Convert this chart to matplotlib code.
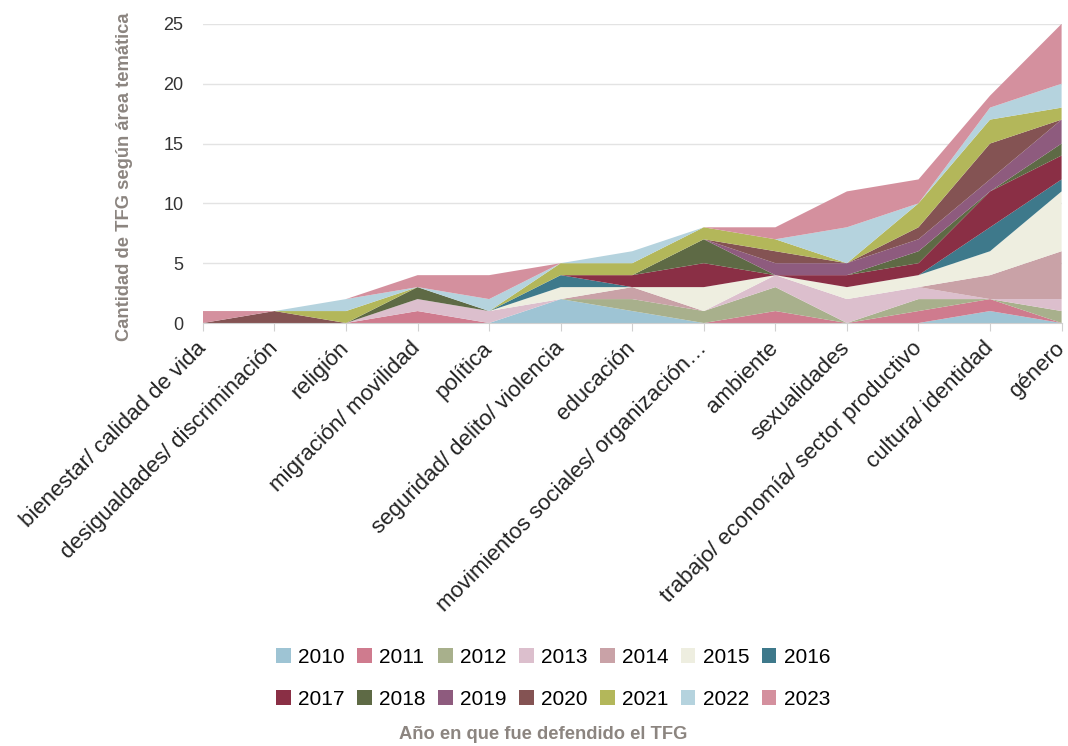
import numpy as np
import matplotlib
matplotlib.use("Agg")
import matplotlib.pyplot as plt
from matplotlib.patches import Patch

plt.rcParams['font.family'] = ['Liberation Sans', 'DejaVu Sans']

# ----------------------------
# Data
# ----------------------------
categories = [
    "bienestar/ calidad de vida",
    "desigualdades/ discriminación",
    "religión",
    "migración/ movilidad",
    "política",
    "seguridad/ delito/ violencia",
    "educación",
    "movimientos sociales/ organización…",
    "ambiente",
    "sexualidades",
    "trabajo/ economía/ sector productivo",
    "cultura/ identidad",
    "género",
]

years = ["2010", "2011", "2012", "2013", "2014", "2015", "2016",
         "2017", "2018", "2019", "2020", "2021", "2022", "2023"]

y2010 = [0, 0, 0, 0, 0, 2, 1, 0, 0, 0, 0, 1, 0]
y2011 = [0, 0, 0, 1, 0, 0, 0, 0, 1, 0, 1, 1, 0]
y2012 = [0, 0, 0, 0, 0, 0, 1, 1, 2, 0, 1, 0, 1]
y2013 = [0, 0, 0, 1, 1, 0, 0, 0, 1, 2, 1, 0, 1]
y2014 = [0, 0, 0, 0, 0, 0, 1, 0, 0, 0, 0, 2, 4]
y2015 = [0, 0, 0, 0, 0, 1, 0, 2, 0, 1, 1, 2, 5]
y2016 = [0, 0, 0, 0, 0, 1, 0, 0, 0, 0, 0, 2, 1]
y2017 = [0, 0, 0, 0, 0, 0, 1, 2, 0, 1, 1, 3, 2]
y2018 = [0, 0, 0, 1, 0, 0, 0, 2, 0, 0, 1, 0, 1]
y2019 = [0, 0, 0, 0, 0, 0, 0, 0, 1, 1, 1, 1, 2]
y2020 = [0, 1, 0, 0, 0, 0, 0, 0, 1, 0, 1, 3, 0]
y2021 = [0, 0, 1, 0, 0, 1, 1, 1, 1, 0, 2, 2, 1]
y2022 = [0, 0, 1, 0, 1, 0, 1, 0, 0, 3, 0, 1, 2]
y2023 = [1, 0, 0, 1, 2, 0, 0, 0, 1, 3, 2, 1, 5]

series = [y2010, y2011, y2012, y2013, y2014, y2015, y2016,
          y2017, y2018, y2019, y2020, y2021, y2022, y2023]

colors = ["#9ec4d4", "#cf7b8e", "#a8b08c", "#dcbfcd", "#c9a2a7", "#eeeee0",
          "#3e798b", "#8a2f45", "#5e6a45", "#8e5b7e", "#845353", "#b3b75a",
          "#b5d3de", "#d4909e"]

# ----------------------------
# Plot
# ----------------------------
fig = plt.figure(figsize=(10.68, 7.46), dpi=100)
ax = fig.add_axes([0.190, 0.567, 0.804, 0.401])

x = np.arange(len(categories))
ax.stackplot(x, *series, colors=colors, linewidth=0)

ax.set_xlim(0, len(categories) - 1)
ax.set_ylim(0, 25)
ax.set_yticks([0, 5, 10, 15, 20, 25])
ax.yaxis.grid(True, color="#e3e3e3", linewidth=1)
ax.set_axisbelow(True)

for s in ["top", "right", "left"]:
    ax.spines[s].set_visible(False)
ax.spines["bottom"].set_color("#d0d0d0")

ax.set_xticks(x)
ax.set_xticklabels(categories, rotation=45, ha="right", va="center",
                   rotation_mode="anchor", fontsize=16, color="#222222")
ax.tick_params(axis="x", length=6, color="#d0d0d0", pad=10)
ax.tick_params(axis="y", length=0, labelsize=13, labelcolor="#333333", pad=14)

fig.text(0.117, 0.763, "Cantidad de TFG según área temática", rotation=90,
         ha="center", va="center", fontsize=13.2, fontweight="bold",
         color="#8c8580")

# legend filled row by row (matplotlib fills columns first)
ncol = 7
order = [r * ncol + c for c in range(ncol) for r in range(2)]
handles = [Patch(facecolor=colors[i], edgecolor="none") for i in order]
labels = [years[i] for i in order]
fig.legend(handles, labels, loc="center", bbox_to_anchor=(0.518, 0.091),
           ncol=ncol, frameon=False, fontsize=15, handlelength=0.7,
           handleheight=0.7, handletextpad=0.35, columnspacing=0.6,
           labelspacing=1.1)

fig.text(0.509, 0.015, "Año en que fue defendido el TFG", ha="center",
         va="center", fontsize=13.2, fontweight="bold", color="#8c8580")

fig.savefig("out.png", dpi=100)
